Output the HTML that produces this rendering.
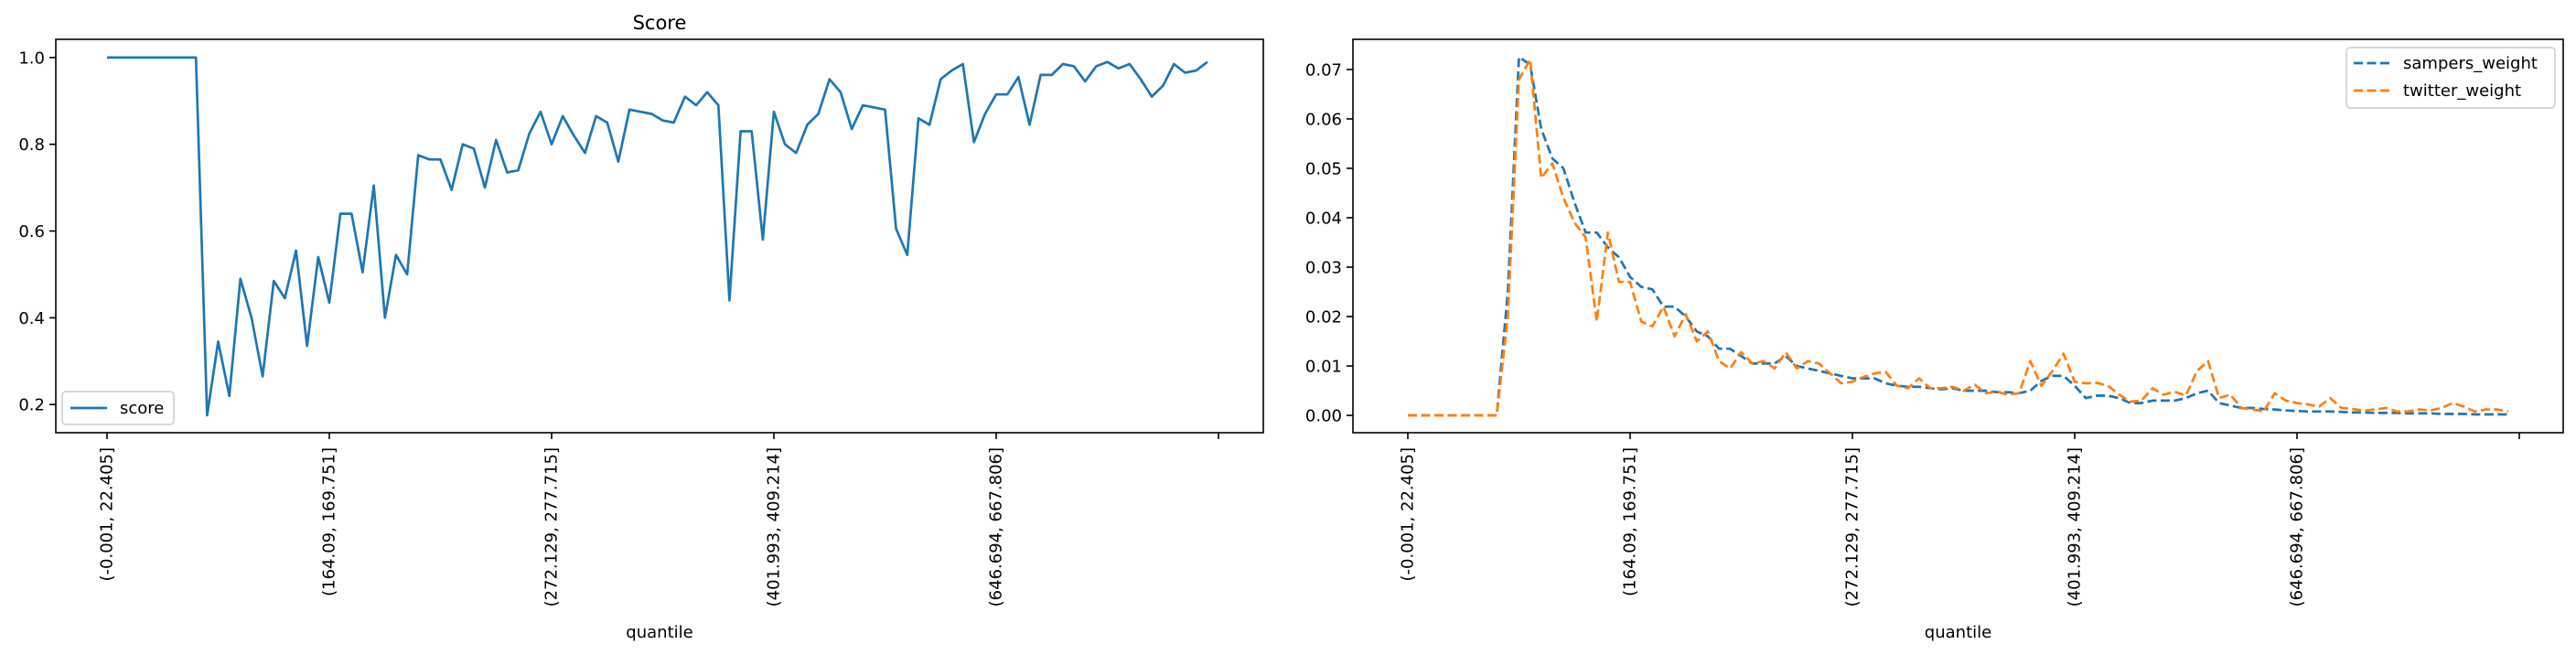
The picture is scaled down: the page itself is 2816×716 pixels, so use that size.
<!DOCTYPE html>
<html><head><meta charset="utf-8"><style>
html,body{margin:0;padding:0;background:#fff}
svg{display:block;font-family:"DejaVu Sans","Liberation Sans",sans-serif}
</style></head><body>
<svg id="chart" width="2816" height="716" viewBox="0 0 2816 716" xmlns="http://www.w3.org/2000/svg">
<rect width="2816" height="716" fill="#fff"/>
<g id="left"></g>
<g id="right"></g>
</svg>
<script>
const tickLabels = ["(-0.001, 22.405]","(164.09, 169.751]","(272.129, 277.715]","(401.993, 409.214]","(646.694, 667.806]",""];
const tickIdx = [0,20,40,60,80,100];
const score = [1,1,1,1,1,1,1,1,1,0.175,0.345,0.22,0.49,0.40,0.265,0.485,0.445,0.555,0.335,0.54,0.435,0.64,0.64,0.505,0.705,0.40,0.545,0.50,0.775,0.765,0.765,0.695,0.80,0.79,0.70,0.81,0.735,0.74,0.825,0.875,0.80,0.865,0.82,0.78,0.865,0.85,0.76,0.88,0.875,0.87,0.855,0.85,0.91,0.89,0.92,0.89,0.44,0.83,0.83,0.58,0.875,0.80,0.78,0.845,0.87,0.95,0.92,0.835,0.89,0.885,0.88,0.605,0.545,0.86,0.845,0.95,0.97,0.985,0.805,0.87,0.915,0.915,0.955,0.845,0.96,0.96,0.985,0.98,0.945,0.98,0.99,0.975,0.985,0.95,0.91,0.935,0.985,0.965,0.97,0.99];
const sampers = [0,0,0,0,0,0,0,0,0,0.025,0.0725,0.071,0.058,0.052,0.050,0.043,0.037,0.037,0.034,0.032,0.028,0.026,0.0255,0.022,0.022,0.020,0.017,0.016,0.0135,0.0135,0.012,0.0105,0.0105,0.0105,0.012,0.010,0.0095,0.009,0.0085,0.008,0.0075,0.0075,0.0075,0.0065,0.006,0.0058,0.0058,0.0055,0.0053,0.0055,0.005,0.005,0.005,0.0047,0.0047,0.0045,0.005,0.007,0.008,0.008,0.006,0.0035,0.004,0.004,0.0035,0.0025,0.0025,0.003,0.003,0.003,0.0035,0.0045,0.005,0.0025,0.002,0.0015,0.0015,0.0013,0.0012,0.001,0.0009,0.0008,0.0008,0.0008,0.0007,0.0006,0.0006,0.0005,0.0005,0.0005,0.0004,0.0004,0.0004,0.0003,0.0003,0.0003,0.0002,0.0002,0.0002,0.0002];
const twitter = [0,0,0,0,0,0,0,0,0,0.02,0.068,0.072,0.048,0.051,0.044,0.039,0.036,0.019,0.037,0.027,0.027,0.019,0.018,0.022,0.016,0.0205,0.015,0.017,0.011,0.0095,0.0128,0.0105,0.011,0.0095,0.0128,0.0095,0.011,0.0105,0.0085,0.0065,0.0068,0.0078,0.0085,0.0088,0.006,0.0055,0.0075,0.0055,0.0055,0.0058,0.005,0.0062,0.0045,0.0048,0.0042,0.0045,0.011,0.006,0.009,0.0125,0.0068,0.0065,0.0066,0.006,0.0042,0.0028,0.003,0.0055,0.0042,0.0048,0.004,0.009,0.011,0.0035,0.0042,0.0015,0.0012,0.0008,0.0045,0.003,0.0025,0.0022,0.0018,0.0035,0.0015,0.0013,0.001,0.0012,0.0015,0.0008,0.0008,0.0012,0.001,0.0015,0.0025,0.0018,0.0008,0.0012,0.0012,0.0008];
const leftYTicks = [0.2,0.4,0.6,0.8,1.0];
const leftYLabels = ["0.2","0.4","0.6","0.8","1.0"];
const rightYTicks = [0,0.01,0.02,0.03,0.04,0.05,0.06,0.07];
const rightYLabels = ["0.00","0.01","0.02","0.03","0.04","0.05","0.06","0.07"];

const NS="http://www.w3.org/2000/svg";
function mk(parent,tag,attrs){const e=document.createElementNS(NS,tag);for(const k in attrs)e.setAttribute(k,attrs[k]);parent.appendChild(e);return e;}

function panel(g,cfg){
  const {x0,x1,y0,y1,i0,xstep,vTop,vBot}=cfg;
  const X=i=>i0+i*xstep;
  const Y=v=>y0+(vTop-v)/(vTop-vBot)*(y1-y0);
  // x ticks
  tickIdx.forEach((t,k)=>{
    const tk=mk(g,'line',{x1:X(t),x2:X(t),y1:y1,y2:y1+7,stroke:'#000','stroke-width':1.6});
    
    
    if(tickLabels[k]){
      const tx=mk(g,'text',{x:0,y:0,'font-size':18,'text-anchor':'end','dominant-baseline':'central',transform:`translate(${X(t)},${y1+16}) rotate(-90)`});
      tx.textContent=tickLabels[k];
      
      
    }
  });
  cfg.yt.forEach((v,k)=>{
    const tk=mk(g,'line',{x1:x0-7,x2:x0,y1:Y(v),y2:Y(v),stroke:'#000','stroke-width':1.6});
    
    
    const tx=mk(g,'text',{x:x0-12,y:Y(v)+6.5,'font-size':18,'text-anchor':'end'});
    tx.textContent=cfg.yl[k];
    
    
  });
  const xl=mk(g,'text',{x:(x0+x1)/2,y:697,'font-size':18,'text-anchor':'middle'});
  xl.textContent='quantile';
  
  
  cfg.series.forEach(s=>{
    const d=s.data.map((v,i)=>(i?'L':'M')+X(i).toFixed(1)+','+Y(v).toFixed(1)).join(' ');
    const p=mk(g,'path',{d:d,fill:'none',stroke:s.color,'stroke-width':2.7,'stroke-linejoin':'round'});
    if(s.dash)p.setAttribute('stroke-dasharray','10,4.5');
    
    
  });
  const fr=mk(g,'rect',{x:x0,y:y0,width:x1-x0,height:y1-y0,fill:'none',stroke:'#000','stroke-width':1.6});
  
  
}

const L=document.getElementById('left');
panel(L,{x0:61,x1:1381,y0:43,y1:473,i0:117,xstep:12.15,vTop:1.042,vBot:0.135,yt:leftYTicks,yl:leftYLabels,
  series:[{name:'score',data:score,color:'#1f77b4'}]});
const R=document.getElementById('right');
panel(R,{x0:1479,x1:2802,y0:43,y1:473,i0:1539,xstep:12.15,vTop:0.0761,vBot:-0.0035,yt:rightYTicks,yl:rightYLabels,
  series:[{name:'sampers-weight',data:sampers,color:'#1f77b4',dash:true},{name:'twitter-weight',data:twitter,color:'#ff7f0e',dash:true}]});

const title=mk(L,'text',{x:721,y:32,'font-size':21,'text-anchor':'middle'});
title.textContent='Score';



// legends
const lg1=mk(L,'g',{});


mk(lg1,'rect',{x:68,y:428,width:122,height:36,rx:4,fill:'#fff','fill-opacity':0.8,stroke:'#ccc','stroke-width':1.5});
mk(lg1,'line',{x1:77,x2:117,y1:446,y2:446,stroke:'#1f77b4','stroke-width':2.7});
const t1=mk(lg1,'text',{x:131,y:452,'font-size':18});t1.textContent='score';



const lg2=mk(R,'g',{});


mk(lg2,'rect',{x:2565,y:52,width:228,height:66,rx:4,fill:'#fff','fill-opacity':0.8,stroke:'#ccc','stroke-width':1.5});
mk(lg2,'line',{x1:2573,x2:2613,y1:69,y2:69,stroke:'#1f77b4','stroke-width':2.7,'stroke-dasharray':'10,4.5'});
mk(lg2,'line',{x1:2573,x2:2613,y1:99,y2:99,stroke:'#ff7f0e','stroke-width':2.7,'stroke-dasharray':'10,4.5'});
const t2=mk(lg2,'text',{x:2627,y:75,'font-size':18});t2.textContent='sampers_weight';


const t3=mk(lg2,'text',{x:2627,y:105,'font-size':18});t3.textContent='twitter_weight';


</script>
</body></html>
